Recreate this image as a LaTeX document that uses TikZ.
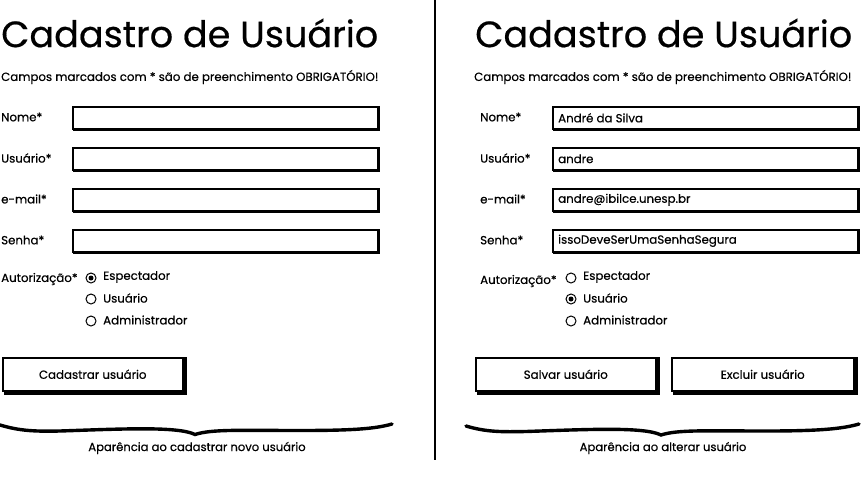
\documentclass[tikz,border=0pt]{standalone}
\usepackage{fontspec}
\setmainfont{Poppins}[FakeBold=0.5]
\begin{document}
\begin{tikzpicture}[x=1pt,y=-1pt,
  lbl/.style={anchor=west,inner sep=0pt,font=\fontsize{11.8}{14}\selectfont},
  val/.style={anchor=west,inner sep=0pt,font=\fontsize{11.8}{14}\selectfont},
  ttl/.style={anchor=west,inner sep=0pt,font=\fontsize{36.6}{40}\selectfont},
  sub/.style={anchor=west,inner sep=0pt,font=\fontsize{11.8}{13}\selectfont},
  field/.style={draw,line width=1.6pt,anchor=north west,minimum height=22pt,inner sep=0pt},
  btn/.style={draw,line width=1.5pt,anchor=north west,minimum height=33pt,inner sep=0pt,font=\fontsize{11.8}{14}\selectfont},
  shadow/.style={line width=3pt},
  radio/.style={draw,circle,line width=1pt,minimum size=10pt,inner sep=0pt},
  dot/.style={fill,circle,minimum size=5pt,inner sep=0pt},
  brace/.style={line width=3.4pt,line cap=round},
  captxt/.style={anchor=center,inner sep=0pt,font=\fontsize{11.6}{14}\selectfont}]
\useasboundingbox (0,0) rectangle (861,503);
% divider
\draw[line width=1.5pt] (435,0) -- (435,460);

%================ LEFT =================
\node[ttl] (t1) at (1,33) {Cadastro de Usuário};
\node[sub] (s1) at (1,77) {Campos marcados com * são de preenchimento OBRIGATÓRIO!};
\foreach \n/\lab/\y in {a/Nome*/117, b/Usuário*/158, c/e-mail*/199, d/Senha*/240}{
  \node[lbl] (L\n) at (1,\y) {\lab};
  \node[field,minimum width=305pt] (F\n) at (72,\y-11) {};
  \draw[line width=1pt] ([shift={(1,1)}]F\n.south west) -- ([shift={(1,1)}]F\n.south east) -- ([shift={(1,0)}]F\n.north east);
}
\node[lbl] (La) at (1,279) {Autorização*};
\node[radio] (r1) at (91,278) {};
\node[dot] at (r1) {};
\node[radio] (r2) at (91,299) {};
\node[radio] (r3) at (91,321) {};
\node[lbl] (rl1) at (103,277) {Espectador};
\node[lbl] (rl2) at (103,298) {Usuário};
\node[lbl] (rl3) at (103,320) {Administrador};
\node[btn,minimum width=180pt] (b1) at (2,357) {Cadastrar usuário};
\draw[shadow] ([shift={(2,0)}]b1.north east) -- ([shift={(2,2)}]b1.south east) -- ([shift={(2,2)}]b1.south west);
\coordinate (bl1) at (0,425);
\coordinate (bm1) at (195,434.5);
\coordinate (br1) at (392,424);
\draw[brace] (bl1) .. controls (20,431) and (35,431.5) .. (60,431) .. controls (120,429) and (178,426) .. (bm1) .. controls (212,429) and (240,430.5) .. (300,430.5) .. controls (350,430.5) and (375,429) .. (br1);
\node[captxt] (c1) at (197,448) {Aparência ao cadastrar novo usuário};

%================ RIGHT =================
\node[ttl] (t2) at (475,33) {Cadastro de Usuário};
\node[sub] (s2) at (474,77) {Campos marcados com * são de preenchimento OBRIGATÓRIO!};
\foreach \n/\lab/\v/\y in {a/Nome*/André da Silva/117, b/Usuário*/andre/158, c/e-mail*/andre@ibilce.unesp.br/199, d/Senha*/issoDeveSerUmaSenhaSegura/240}{
  \node[lbl] (R\n) at (480,\y) {\lab};
  \node[field,minimum width=305pt] (G\n) at (552,\y-11) {};
  \draw[line width=1pt] ([shift={(1,1)}]G\n.south west) -- ([shift={(1,1)}]G\n.south east) -- ([shift={(1,0)}]G\n.north east);
  \node[val] (V\n) at ([xshift=6pt]G\n.west) {\v};
}
\node[lbl] (Ra) at (480,281) {Autorização*};
\node[radio] (q1) at (571,278) {};
\node[radio] (q2) at (571,299) {};
\node[dot] at (q2) {};
\node[radio] (q3) at (571,321) {};
\node[lbl] (ql1) at (583,277) {Espectador};
\node[lbl] (ql2) at (583,298) {Usuário};
\node[lbl] (ql3) at (583,320) {Administrador};
\node[btn,minimum width=180pt] (b2) at (475,357) {Salvar usuário};
\draw[shadow] ([shift={(2,0)}]b2.north east) -- ([shift={(2,2)}]b2.south east) -- ([shift={(2,2)}]b2.south west);
\node[btn,minimum width=182pt] (b3) at (671,357) {Excluir usuário};
\draw[shadow] ([shift={(2,0)}]b3.north east) -- ([shift={(2,2)}]b3.south east) -- ([shift={(2,2)}]b3.south west);
\coordinate (bl2) at (466,426);
\coordinate (bm2) at (661,435);
\coordinate (br2) at (859,424);
\draw[brace] (bl2) .. controls (486,432) and (501,432) .. (526,431.5) .. controls (586,429.5) and (644,426.5) .. (bm2) .. controls (678,429.5) and (706,431) .. (766,431) .. controls (818,431) and (842,429) .. (br2);
\node[captxt] (c2) at (663,448) {Aparência ao alterar usuário};
\end{tikzpicture}
\end{document}
